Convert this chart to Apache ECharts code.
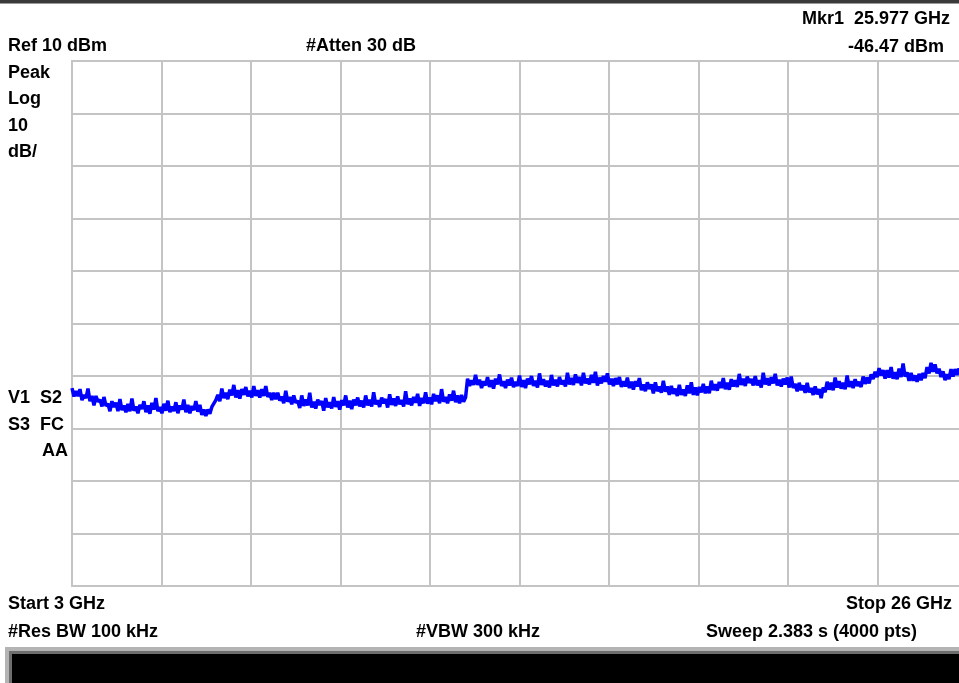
<!DOCTYPE html>
<html>
<head>
<meta charset="utf-8">
<script src="https://cdn.jsdelivr.net/npm/echarts@6/dist/echarts.min.js"></script>
<style>
html,body{margin:0;padding:0;background:#fff;overflow:hidden;width:959px;height:683px;}
#chart{width:980px;height:683px;}
</style>
</head>
<body>
<div id="chart"></div>
<script>
// Sweep settings
var startGHz = 3;
var stopGHz = 26;
var refLevelDbm = 10;
var dbPerDiv = 10;
var divisions = 10;

// Trace levels (dBm), equally spaced sweep points from start to stop
var levelsDbm = [
-52.3,-53.9,-52.9,-53.8,-52.5,-54.6,-53.6,-54.2,-52.4,-54.8,
-53.8,-55.6,-53.8,-54.9,-54.5,-55.8,-54.0,-55.7,-55.3,-56.7,
-54.8,-55.9,-55.1,-56.7,-54.4,-56.5,-55.6,-56.9,
-55.3,-56.7,-54.3,-56.6,-55.8,-57.1,-55.5,-56.3,-54.8,-56.9,
-55.6,-57.2,-55.1,-56.4,-54.2,-56.7,-55.9,-57.1,-55.3,-56.6,
-54.7,-56.9,-55.8,-56.7,-55.0,-57.1,-55.6,-56.4,-54.5,-56.9,
-55.5,-57.1,-55.7,-56.5,-54.8,-56.8,-55.5,-57.4,-56.4,-57.6,
-56.4,-57.2,-55.9,-55.8,-54.6,
-53.6,-54.8,-52.4,-54.2,-53.2,-54.4,-52.6,-53.7,-51.7,-54.1,
-52.7,-54.3,-52.5,-53.6,-52.1,-53.9,-52.8,-54.1,-51.9,-53.8,
-52.7,-54.1,-52.5,-53.8,-51.9,-54.0,-53.2,-54.6,-53.2,-54.4,
-53.2,-54.7,-53.9,-55.2,-52.8,-54.9,-54.0,-55.4,-53.7,-55.1,
-54.7,-56.1,-53.7,-55.7,-54.5,-55.6,-53.2,-56.0,-54.9,-56.2,
-54.5,-55.5,-54.8,-56.6,-54.2,-56.0,-55.0,-56.2,-54.0,-55.9,
-54.8,-56.4,-54.6,-55.6,-53.7,-56.0,-54.7,-56.3,-54.5,-55.6,
-54.1,-55.8,-54.7,-56.0,-53.7,-55.6,-54.5,-55.8,-53.1,-55.4,
-54.6,-55.9,-54.1,-55.2,-54.4,-56.0,-53.5,-55.5,-54.3,-55.7,
-53.9,-55.4,-54.6,-55.8,-52.9,-55.4,-54.3,-55.6,-54.0,-55.1,
-53.4,-55.7,-54.2,-55.2,-53.1,-55.3,-54.1,-55.4,-53.4,-54.8,
-53.7,-55.2,-52.5,-54.9,-54.0,-55.2,-53.5,-54.7,-52.8,-55.0,
-53.7,-55.2,-53.6,-54.9,-54.1,
-50.5,-51.9,-50.8,-51.7,-49.8,-51.7,-50.7,-52.3,-51.0,-51.8,
-50.2,-52.1,-50.8,-52.4,-50.5,-51.6,-49.7,-51.9,-51.0,-52.3,
-50.7,-51.8,-50.3,-52.1,-51.1,-51.9,-49.9,-52.1,-50.8,-52.3,
-50.5,-51.6,-50.0,-51.9,-50.9,-52.2,-49.5,-51.7,-50.6,-52.0,
-50.9,-52.2,-49.8,-51.8,-50.7,-52.0,-50.2,-51.6,-50.8,-52.0,
-49.4,-51.6,-50.4,-51.7,-49.7,-51.3,-50.2,-51.8,-49.4,-51.4,
-50.5,-51.6,-49.8,-51.3,-49.2,-51.8,-50.3,-51.4,-50.0,-51.1,
-49.5,-51.6,-50.5,-51.9,-50.4,-51.6,-50.2,-52.1,-51.0,-52.0,
-50.3,-52.3,-51.1,-52.6,-51.0,-52.0,-50.4,-52.7,-51.6,-52.9,
-51.2,-52.5,-51.6,-53.3,-51.2,-52.9,-52.0,-53.2,-50.9,-53.0,
-52.0,-53.6,-51.9,-53.4,-52.4,-53.8,-51.7,-53.6,-52.6,-53.8,
-51.8,-53.3,-51.2,-53.6,-52.2,-53.7,-52.1,-53.1,-51.5,-53.3,
-52.0,-53.3,-50.9,-52.7,-51.6,-52.8,-51.1,-52.3,-50.4,-52.5,
-51.3,-52.6,-50.6,-52.0,-50.8,-52.1,-49.6,-51.7,-50.5,-51.9,
-50.1,-51.3,-50.6,-51.8,-50.0,-51.8,-50.8,-52.2,-49.4,-51.6,
-50.4,-51.8,-50.2,-51.4,-49.6,-51.8,-50.7,-52.0,-50.5,-51.6,
-50.3,-52.2,-50.1,-52.3,-51.5,-52.9,-51.3,-52.7,-51.8,-53.2,
-51.3,-53.1,-52.3,-53.6,-52.0,-53.5,-52.5,-54.2,-52.2,-53.1,
-51.1,-52.6,-51.3,-52.7,-50.3,-52.2,-51.0,-52.4,-51.3,-52.5,
-49.9,-52.1,-51.0,-52.3,-50.6,-51.9,-51.1,-52.1,-50.1,-51.5,
-50.3,-51.4,-49.7,-50.6,-49.2,-50.2,-48.5,-49.9,-48.9,-50.5,
-48.9,-50.3,-48.3,-50.5,-49.3,-50.6,-48.6,-50.2,-47.6,-50.1,
-49.3,-50.9,-49.4,-50.9,-49.9,-51.1,-49.6,-50.8,-49.4,-50.4,
-48.3,-49.5,-47.5,-49.2,-47.8,-49.5,-48.6,-50.2,-49.1,-50.8,
-49.7,-50.6,-48.7,-50.1,-48.7,-49.8,-48.6,-49.8,-48.6,-46.5,
-49.0
];

// Marker
var markerGHz = 25.977;
var markerDbm = -46.47;

// Annotation texts
var headerLeft = "Ref 10 dBm";
var headerMid = "#Atten 30 dB";
var markerLine1 = "Mkr1  25.977 GHz";
var markerLine2 = "-46.47 dBm";
var sideTop = ["Peak", "Log", "10", "dB/"];
var sideMid = ["V1  S2", "S3  FC", "AA"];
var footStart = "Start 3 GHz";
var footStop = "Stop 26 GHz";
var footRbw = "#Res BW 100 kHz";
var footVbw = "#VBW 300 kHz";
var footSweep = "Sweep 2.383 s (4000 pts)";

var traceData = levelsDbm.map(function (v, i) {
  return [startGHz + i * (stopGHz - startGHz) / (levelsDbm.length - 1), v];
});

var FONT = 'bold 18px "Liberation Sans", Arial, sans-serif';
function txt(text, x, y, align) {
  return {
    type: 'text', x: x, y: y, silent: true,
    style: {
      text: text, font: FONT, fill: '#000',
      align: align || 'left', verticalAlign: 'middle',
      textAlign: align || 'left', textVerticalAlign: 'middle'
    }
  };
}

var chart = echarts.init(document.getElementById('chart'), null, {renderer: 'canvas'});
var option = {
  backgroundColor: '#ffffff',
  animation: false,
  grid: {
    left: 72, top: 61, width: 895, height: 525,
    show: true, borderColor: '#c4c4c4', borderWidth: 2, backgroundColor: 'transparent'
  },
  xAxis: {
    type: 'value', min: startGHz, max: stopGHz,
    interval: (stopGHz - startGHz) / divisions,
    axisLine: {show: false}, axisTick: {show: false}, axisLabel: {show: false},
    splitLine: {show: true, lineStyle: {color: '#c4c4c4', width: 2}}
  },
  yAxis: {
    type: 'value', min: refLevelDbm - dbPerDiv * divisions, max: refLevelDbm,
    interval: dbPerDiv,
    axisLine: {show: false}, axisTick: {show: false}, axisLabel: {show: false},
    splitLine: {show: true, lineStyle: {color: '#c4c4c4', width: 2}}
  },
  series: [{
    type: 'line',
    data: traceData,
    showSymbol: false,
    symbol: 'none',
    lineStyle: {color: '#0000ff', width: 3.5},
    clip: true,
    markPoint: {
      symbol: 'diamond', symbolSize: 6,
      itemStyle: {color: '#808080'},
      label: {show: false},
      data: [{coord: [markerGHz, markerDbm]}]
    }
  }],
  graphic: [
    {type: 'rect', shape: {x: 0, y: 0, width: 980, height: 3}, style: {fill: '#3a3a3a'}, silent: true},
    {type: 'rect', shape: {x: 0, y: 3, width: 980, height: 1}, style: {fill: '#9a9a9a'}, silent: true},
    {type: 'rect', shape: {x: 5, y: 647, width: 980, height: 40}, style: {fill: '#b4b4b4'}, silent: true},
    {type: 'rect', shape: {x: 9, y: 651, width: 980, height: 40}, style: {fill: '#6e6e6e'}, silent: true},
    {type: 'rect', shape: {x: 12, y: 654, width: 980, height: 40}, style: {fill: '#000000'}, silent: true},
    txt(headerLeft, 8, 46),
    txt(headerMid, 306, 46),
    txt(markerLine1, 950, 19, 'right'),
    txt(markerLine2, 944, 47, 'right'),
    txt(sideTop[0], 8, 73),
    txt(sideTop[1], 8, 99),
    txt(sideTop[2], 8, 126),
    txt(sideTop[3], 8, 152),
    txt(sideMid[0], 8, 398),
    txt(sideMid[1], 8, 425),
    txt(sideMid[2], 68, 451, 'right'),
    txt(footStart, 8, 604),
    txt(footStop, 952, 604, 'right'),
    txt(footRbw, 8, 632),
    txt(footVbw, 416, 632),
    txt(footSweep, 706, 632)
  ]
};
chart.setOption(option);
</script>
</body>
</html>
